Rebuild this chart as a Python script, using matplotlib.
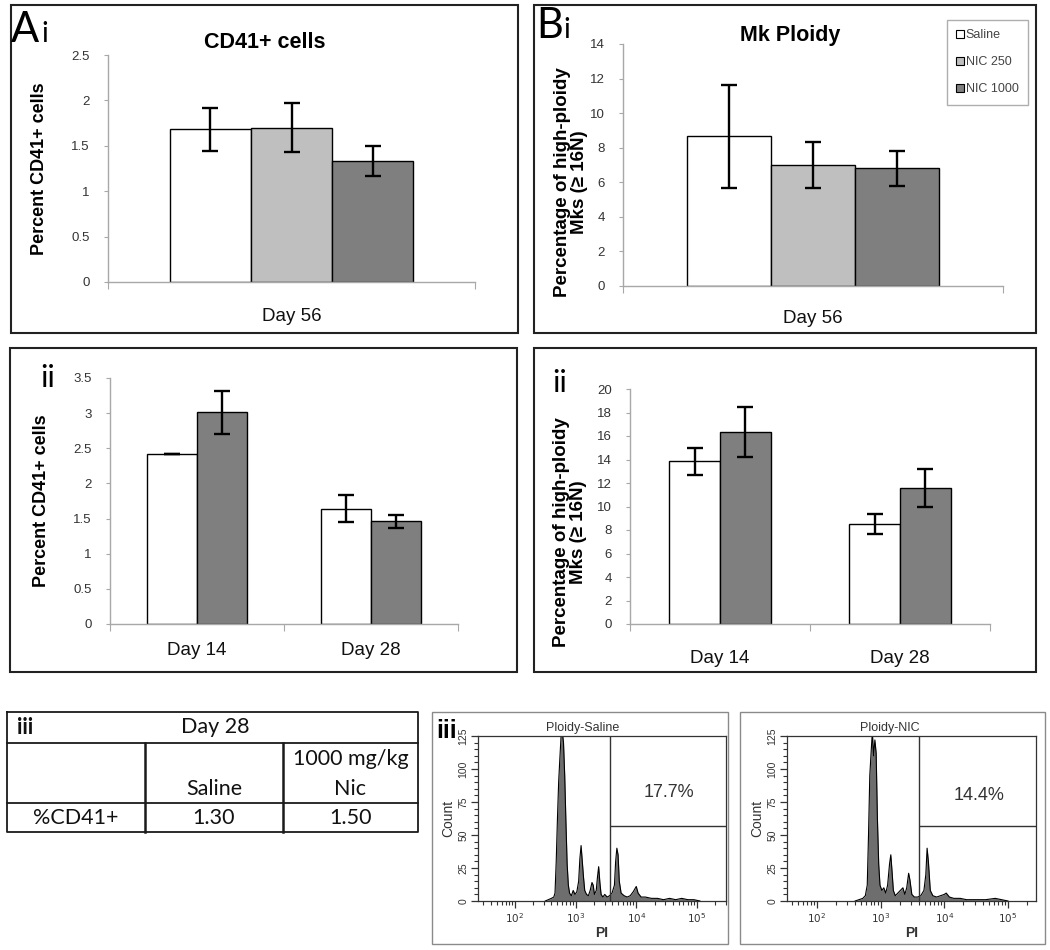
import numpy as np
import matplotlib
matplotlib.use("Agg")
import matplotlib.pyplot as plt
from matplotlib.patches import Rectangle, Patch
from matplotlib.ticker import MultipleLocator, FixedLocator, LogLocator, NullFormatter

plt.rcParams['font.family'] = ['Liberation Sans', 'DejaVu Sans']

# ---------------- data ----------------
groups_i = ["Saline", "NIC 250", "NIC 1000"]
colors_i = ["#ffffff", "#bfbfbf", "#7f7f7f"]

cd41_day56 = [1.68, 1.70, 1.33]
cd41_day56_err = [0.235, 0.27, 0.165]
ploidy_day56 = [8.65, 7.0, 6.8]
ploidy_day56_err = [3.0, 1.35, 1.0]

days_ii = ["Day 14", "Day 28"]
colors_ii = ["#ffffff", "#7f7f7f"]
cd41_saline = [2.42, 1.64]
cd41_saline_err = [0.0, 0.19]
cd41_nic = [3.01, 1.46]
cd41_nic_err = [0.305, 0.095]
ploidy_saline = [13.85, 8.55]
ploidy_saline_err = [1.13, 0.85]
ploidy_nic = [16.35, 11.55]
ploidy_nic_err = [2.15, 1.6]

table_header = ["Day 28"]
table_cols = ["Saline", "1000 mg/kg", "Nic"]
table_row_label = "%CD41+"
table_values = ["1.30", "1.50"]

# flow histograms (log10 PI, count)
saline_logpi = [2.50, 2.55, 2.60, 2.64, 2.66, 2.68, 2.70, 2.72, 2.74, 2.76, 2.78, 2.80, 2.82,
                2.84, 2.86, 2.88, 2.90, 2.93, 2.96, 2.99, 3.02, 3.05, 3.07, 3.09, 3.11, 3.13, 3.15,
                3.18, 3.21, 3.24, 3.27, 3.29, 3.31, 3.34, 3.36, 3.38, 3.40, 3.42, 3.45, 3.48, 3.52,
                3.56, 3.60, 3.64, 3.66, 3.68, 3.70, 3.72, 3.75, 3.80, 3.85, 3.90, 3.95, 4.00, 4.03,
                4.08, 4.15, 4.25, 4.35, 4.45, 4.55, 4.65, 4.75, 4.85, 4.95, 5.05]
saline_count = [0, 1, 2, 3, 6, 30, 62, 90, 108, 125, 128, 120, 95,
                60, 28, 12, 6, 4, 8, 5, 7, 15, 32, 42, 30, 18, 8,
                5, 4, 8, 14, 12, 5, 8, 18, 26, 14, 5, 3, 5, 3,
                4, 6, 12, 30, 40, 35, 15, 6, 4, 3, 4, 7, 11, 6,
                3, 3, 2, 2, 1, 2, 1, 2, 1, 1, 0]
nic_logpi = [2.60, 2.66, 2.72, 2.76, 2.79, 2.81, 2.83, 2.85, 2.87, 2.89, 2.91, 2.93, 2.95, 2.97,
             2.99, 3.02, 3.05, 3.08, 3.11, 3.14, 3.16, 3.18, 3.20, 3.23, 3.27, 3.31, 3.35, 3.38,
             3.41, 3.44, 3.46, 3.49, 3.53, 3.58, 3.63, 3.68, 3.71, 3.73, 3.75, 3.78, 3.82, 3.88,
             3.94, 4.00, 4.03, 4.08, 4.15, 4.25, 4.35, 4.50, 4.65, 4.80, 4.90, 5.00]
nic_count = [0, 1, 2, 4, 12, 50, 95, 112, 128, 110, 122, 112, 62, 28,
             12, 8, 10, 6, 12, 28, 35, 22, 8, 4, 6, 8, 10, 5,
             10, 21, 16, 5, 3, 3, 4, 8, 20, 40, 30, 8, 4, 3,
             4, 5, 6, 3, 2, 2, 1, 1, 1, 2, 1, 0]

W, H = 1050, 950
fig = plt.figure(figsize=(W / 100, H / 100), dpi=100)


def ax_px(l, t, r, b):
    return fig.add_axes([l / W, 1 - b / H, (r - l) / W, (b - t) / H])


def frame(l, t, r, b, lw=1.5, color="#222222"):
    fig.add_artist(Rectangle((l / W, 1 - b / H), (r - l) / W, (b - t) / H,
                             transform=fig.transFigure, fill=False, lw=lw, ec=color))


def ftext(x, y, s, **kw):
    fig.text(x / W, 1 - y / H, s, **kw)


def fmt(v):
    return "{:g}".format(v)


def bar_panel(ax, cats, vals, errs, colors, width, ymax, ystep, ylabel, ylab_xy, xpad, ylab_size):
    n = len(vals)
    x = np.arange(len(cats))
    for i, (v, e, c) in enumerate(zip(vals, errs, colors)):
        off = (i - (n - 1) / 2) * width
        ax.bar(x + off, v, width, color=c, edgecolor="black", lw=1.0, zorder=2)
        ax.errorbar(x + off, v, yerr=e, fmt="none", ecolor="black", elinewidth=1.7,
                    capsize=5.5, capthick=1.7, zorder=3)
    ax.set_xlim(-0.5, len(cats) - 0.5)
    ax.set_ylim(0, ymax)
    for s in ["top", "right"]:
        ax.spines[s].set_visible(False)
    for s in ["left", "bottom"]:
        ax.spines[s].set_color("#a8a8a8")
        ax.spines[s].set_linewidth(1.0)
    yt = np.arange(0, ymax + ystep / 2, ystep)
    ax.set_yticks(yt)
    ax.set_yticklabels([fmt(round(v, 2)) for v in yt])
    ax.tick_params(axis="y", length=3, width=0.8, color="#a8a8a8", pad=10,
                   labelsize=9.5, labelcolor="#333333")
    ax.set_xticks(x)
    ax.set_xticklabels(cats)
    ax.tick_params(axis="x", which="major", length=0, pad=xpad, labelsize=13.5,
                   labelcolor="#111111")
    ax.xaxis.set_minor_locator(FixedLocator(np.arange(-0.5, len(cats), 1.0)))
    ax.tick_params(axis="x", which="minor", length=5, width=0.8, color="#a8a8a8")
    ax.set_ylabel(ylabel, fontsize=ylab_size, fontweight="bold", linespacing=1.0)
    ax.yaxis.set_label_coords(*ylab_xy)
    ax.set_facecolor("none")


# ---------- panel frames ----------
frame(11, 5, 518, 333)
frame(534, 5, 1036, 333)
frame(10, 348, 517, 672)
frame(534, 348, 1036, 672)

letter_font = dict(family=["Lato", "DejaVu Sans"])

# ---------- Ai ----------
axA1 = ax_px(108, 55, 475, 282)
bar_panel(axA1, ["Day 56"], [[v] for v in cd41_day56], [[e] for e in cd41_day56_err],
          colors_i, 0.221, 2.5, 0.5, "Percent CD41+ cells", (-0.163, 0.5), 19, 13)
ftext(265, 42, "CD41+ cells", ha="center", va="center", fontsize=15.5, fontweight="bold")
ftext(11, 42, "A", ha="left", va="baseline", fontsize=30, **letter_font)
ftext(41, 42, "i", ha="left", va="baseline", fontsize=20, **letter_font)

# ---------- Bi ----------
axB1 = ax_px(623, 44, 1003, 286)
bar_panel(axB1, ["Day 56"], [[v] for v in ploidy_day56], [[e] for e in ploidy_day56_err],
          colors_i, 0.221, 14, 2, "Percentage of high-ploidy\nMks (\u2265 16N)", (-0.092, 0.43), 17, 13.5)
ftext(790, 35, "Mk Ploidy", ha="center", va="center", fontsize=15.5, fontweight="bold")
ftext(536, 38, "B", ha="left", va="baseline", fontsize=30, **letter_font)
ftext(563, 38, "i", ha="left", va="baseline", fontsize=20, **letter_font)
handles = [Patch(facecolor=c, edgecolor="black", lw=0.8) for c in colors_i]
fig.legend(handles, groups_i, loc="upper left", bbox_to_anchor=(947 / W, 1 - 20 / H),
           borderaxespad=0, frameon=True, fancybox=False, edgecolor="#9a9a9a",
           fontsize=9, labelcolor="#444444", handlelength=0.6, handleheight=0.6,
           handletextpad=0.15, labelspacing=1.2, borderpad=0.75)

# ---------- Aii ----------
axA2 = ax_px(110, 378, 458, 624)
bar_panel(axA2, days_ii, [cd41_saline, cd41_nic], [cd41_saline_err, cd41_nic_err],
          colors_ii, 0.285, 3.5, 0.5, "Percent CD41+ cells", (-0.172, 0.5), 13, 13)
ftext(40, 387, "ii", ha="left", va="baseline", fontsize=22, **letter_font)

# ---------- Bii ----------
axB2 = ax_px(630, 389, 990, 624)
bar_panel(axB2, days_ii, [ploidy_saline, ploidy_nic], [ploidy_saline_err, ploidy_nic_err],
          colors_ii, 0.283, 20, 2, "Percentage of high-ploidy\nMks (\u2265 16N)", (-0.12, 0.39), 19, 13.5)
ftext(552, 392, "ii", ha="left", va="baseline", fontsize=22, **letter_font)

# ---------- table iii ----------
axT = ax_px(0, 700, 430, 840)
axT.set_xlim(0, 430)
axT.set_ylim(840, 700)
axT.axis("off")
tl, tr, tt, tb = 7, 418, 712, 832
r1, r2 = 743, 803
c1, c2 = 145, 283
lc = "#1a1a1a"
axT.plot([tl, tr, tr, tl, tl], [tt, tt, tb, tb, tt], color=lc, lw=1.3)
axT.plot([tl, tr], [r1, r1], color=lc, lw=1.3)
axT.plot([tl, tr], [r2, r2], color=lc, lw=1.3)
axT.plot([c1, c1], [r1, tb], color=lc, lw=1.8)
axT.plot([c2, c2], [r1, tb], color=lc, lw=1.8)
tfont = dict(family=["Lato", "DejaVu Sans"], fontsize=15.5, color="#111111")
axT.text(17, 727, "iii", ha="left", va="center", fontweight="bold", **tfont)
axT.text(215, 727, table_header[0], ha="center", va="center", **tfont)
axT.text((c1 + c2) / 2, 789, table_cols[0], ha="center", va="center", **tfont)
axT.text((c2 + tr) / 2, 759, table_cols[1], ha="center", va="center", **tfont)
axT.text((c2 + tr) / 2, 789, table_cols[2], ha="center", va="center", **tfont)
axT.text((tl + c1) / 2, 818, table_row_label, ha="center", va="center", **tfont)
axT.text((c1 + c2) / 2, 818, table_values[0], ha="center", va="center", **tfont)
axT.text((c2 + tr) / 2, 818, table_values[1], ha="center", va="center", **tfont)


# ---------- flow histograms ----------
def hist_panel(ax, lx, cnt, xl, gate, gate_y):
    xs = 10 ** np.array(lx)
    ax.fill_between(xs, cnt, color="#6e6e6e", lw=0, zorder=1)
    ax.plot(xs, cnt, color="black", lw=0.8, zorder=2)
    ax.set_xscale("log")
    ax.set_xlim(10 ** xl[0], 10 ** xl[1])
    ax.set_ylim(0, 125)
    ax.axvline(10 ** gate, color="#333333", lw=1.0, zorder=3)
    ax.hlines(gate_y, 10 ** gate, 10 ** xl[1], color="#333333", lw=1.0, zorder=3)
    ax.set_yticks(np.arange(0, 126, 25))
    ax.set_yticklabels([str(v) for v in range(0, 126, 25)], rotation=90, va="center")
    ax.yaxis.set_minor_locator(MultipleLocator(5))
    ax.xaxis.set_major_locator(FixedLocator([1e2, 1e3, 1e4, 1e5]))
    ax.set_xticklabels(["$10^2$", "$10^3$", "$10^4$", "$10^5$"])
    ax.xaxis.set_minor_locator(LogLocator(base=10, subs=np.arange(2, 10)))
    ax.xaxis.set_minor_formatter(NullFormatter())
    ax.tick_params(which="major", length=5, width=0.9, labelsize=7.5, color="#333333",
                   labelcolor="#333333", pad=2)
    ax.tick_params(which="minor", length=3, width=0.8, color="#333333")
    for s in ax.spines.values():
        s.set_color("#333333")
        s.set_linewidth(0.9)
    ax.set_ylabel("Count", fontsize=10, color="#333333", labelpad=2)
    ax.set_xlabel("PI", fontsize=10, fontweight="bold", color="#333333", labelpad=1)


frame(432, 712, 728, 944, lw=1.0, color="#8a8a8a")
frame(740, 712, 1045, 944, lw=1.0, color="#8a8a8a")

axH1 = ax_px(478, 736, 726, 901)
hist_panel(axH1, saline_logpi, saline_count, (1.39, 5.48), 3.565, 57)
axH1.text(0.77, 0.66, "17.7%", transform=axH1.transAxes, ha="center", va="center",
          fontsize=13, color="#333333")
ftext(583, 728, "Ploidy-Saline", ha="center", va="center", fontsize=9, color="#333333")
ftext(436, 738, "iii", ha="left", va="baseline", fontsize=18, fontweight="bold")

axH2 = ax_px(787, 736, 1036, 901)
hist_panel(axH2, nic_logpi, nic_count, (1.53, 5.44), 3.60, 57)
axH2.text(0.77, 0.64, "14.4%", transform=axH2.transAxes, ha="center", va="center",
          fontsize=13, color="#333333")
ftext(890, 728, "Ploidy-NIC", ha="center", va="center", fontsize=9, color="#333333")

fig.savefig("out.png", dpi=100)
